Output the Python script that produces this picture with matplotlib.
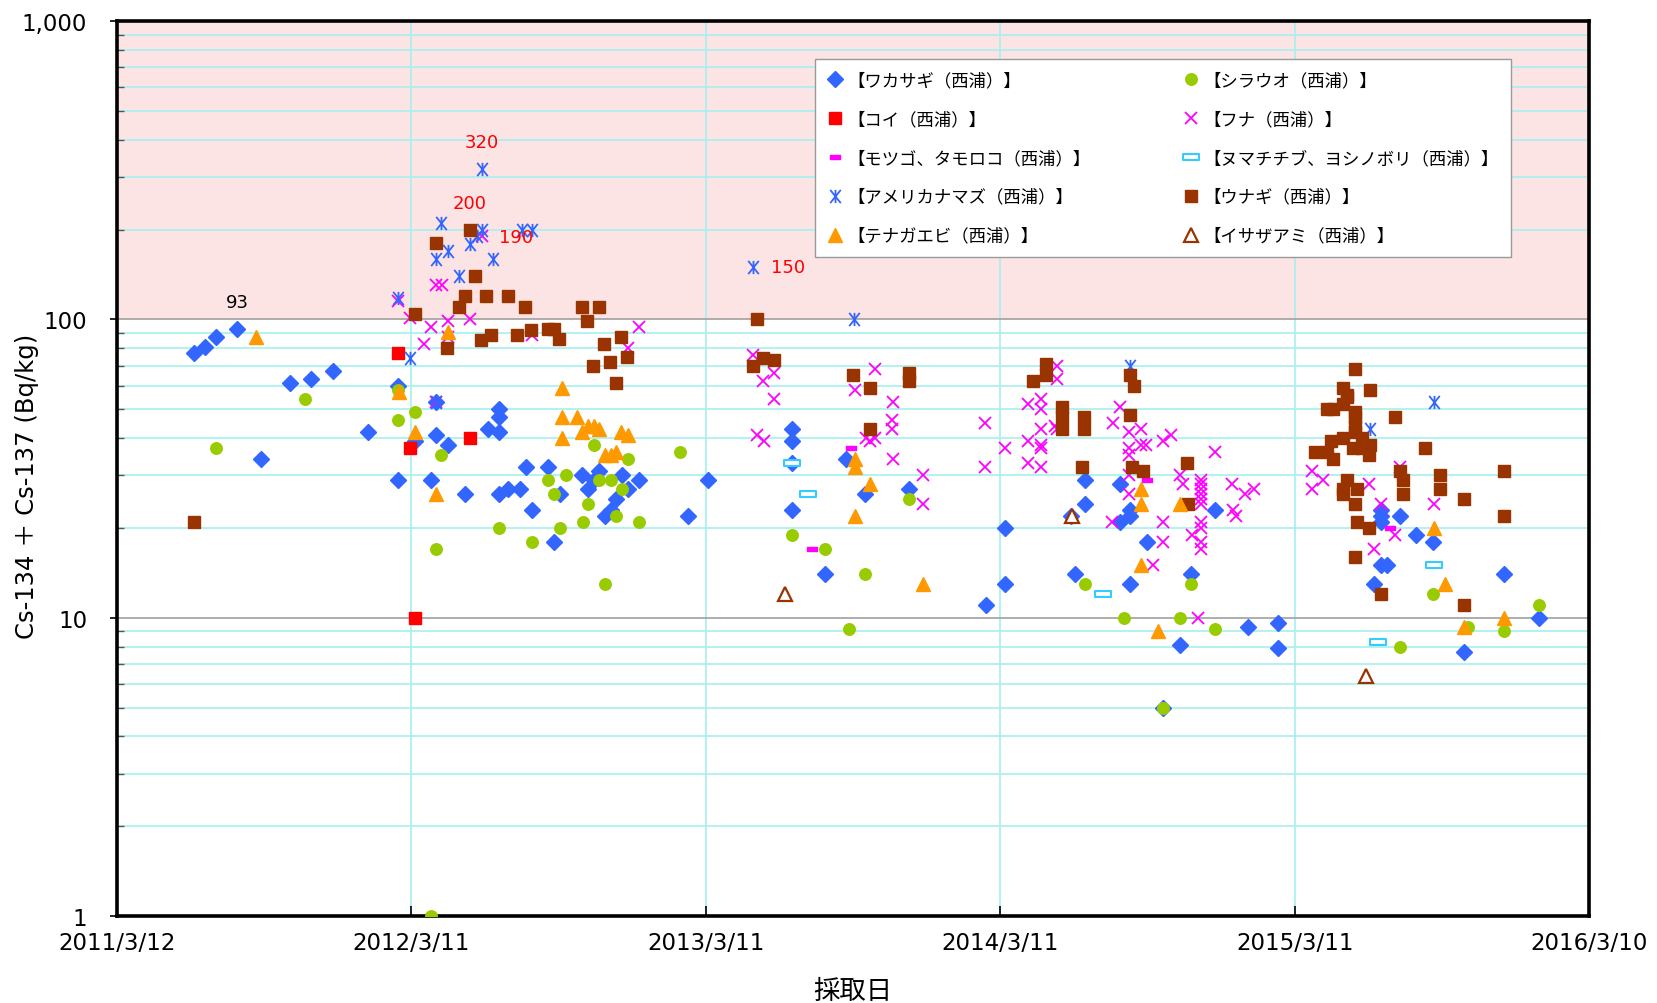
import numpy as np
import pandas as pd
import matplotlib
matplotlib.use('Agg')
import matplotlib.pyplot as plt
from matplotlib.path import Path
from matplotlib.ticker import LogLocator, NullFormatter

plt.rcParams['font.family'] = ['Noto Sans CJK JP', 'DejaVu Sans']

# ---- data ----
wakasagi_d = ['2011-06-15', '2011-06-29', '2011-07-13', '2011-08-08', '2011-09-06', '2011-10-12', '2011-11-07',
              '2011-12-05', '2012-01-17', '2012-02-23', '2012-02-23', '2012-03-16', '2012-04-11', '2012-04-11',
              '2012-04-04', '2012-04-25', '2012-05-16', '2012-06-14', '2012-06-28', '2012-06-28', '2012-06-28',
              '2012-06-28', '2012-07-09', '2012-07-24', '2012-07-31', '2012-08-08', '2012-08-27', '2012-09-04',
              '2012-09-11', '2012-10-09', '2012-10-16', '2012-10-23', '2012-10-30', '2012-11-06', '2012-11-13',
              '2012-11-19', '2012-11-27', '2012-12-04', '2012-12-18', '2013-02-17', '2013-03-14', '2013-06-26',
              '2013-06-26', '2013-06-26', '2013-06-26', '2013-08-06', '2013-09-01', '2013-09-24', '2013-11-18',
              '2014-02-21', '2014-03-17', '2014-03-17', '2014-06-07', '2014-06-12', '2014-06-24', '2014-06-24',
              '2014-08-07', '2014-08-07', '2014-08-19', '2014-08-19', '2014-08-19', '2014-09-09', '2014-09-29',
              '2014-10-20', '2014-11-03', '2014-12-02', '2015-01-12', '2015-02-18', '2015-02-18', '2015-06-18',
              '2015-06-26', '2015-06-26', '2015-06-26', '2015-06-26', '2015-07-04', '2015-07-20', '2015-08-09',
              '2015-08-30', '2015-10-07', '2015-11-25', '2016-01-08']
wakasagi_v = [77, 81, 87, 93, 34, 61, 63, 67, 42, 60, 29, 39, 53, 41, 29, 38, 26, 43, 50, 47, 42, 26, 27, 27, 32,
              23, 32, 18, 26, 30, 27, 29, 31, 22, 23, 25, 30, 27, 29, 22, 29, 43, 39, 33, 23, 14, 34, 26, 27, 11,
              20, 13, 22, 14, 29, 24, 28, 21, 23, 22, 13, 18, 5, 8.1, 14, 23, 9.3, 9.6, 7.9, 13, 23, 22, 21, 15,
              15, 22, 19, 18, 7.7, 14, 10]

shirauo_d = ['2011-07-13', '2011-10-31', '2012-02-23', '2012-02-23', '2012-03-16', '2012-04-04', '2012-04-11',
             '2012-04-17', '2012-06-28', '2012-08-07', '2012-08-27', '2012-09-04', '2012-09-11', '2012-09-19',
             '2012-10-10', '2012-10-16', '2012-10-23', '2012-10-30', '2012-11-06', '2012-11-13', '2012-11-19',
             '2012-11-27', '2012-12-04', '2012-12-18', '2013-02-07', '2013-06-26', '2013-08-06', '2013-09-04',
             '2013-09-24', '2013-11-18', '2014-06-24', '2014-08-12', '2014-09-29', '2014-10-20', '2014-11-03',
             '2014-12-02', '2015-07-20', '2015-08-30', '2015-10-12', '2015-11-25', '2016-01-08']
shirauo_v = [37, 54, 58, 46, 49, 1, 17, 35, 20, 18, 29, 26, 20, 30, 21, 24, 38, 29, 13, 29, 22, 27, 34, 21, 36,
             19, 17, 9.2, 14, 25, 13, 10, 5, 10, 13, 9.2, 8.0, 12, 9.3, 9.0, 11]

koi_d = ['2012-02-23', '2012-03-09', '2012-03-16', '2012-05-22']
koi_v = [77, 37, 10, 40]

funa_d = ['2012-02-23', '2012-03-09', '2012-03-27', '2012-04-04', '2012-04-11', '2012-04-18', '2012-04-11',
          '2012-04-25', '2012-04-25', '2012-05-22', '2012-06-06', '2012-08-07', '2012-12-04', '2012-12-18',
          '2013-05-09', '2013-05-21', '2013-06-04', '2013-06-04', '2013-05-13', '2013-05-22', '2013-09-12',
          '2013-10-07', '2013-10-29', '2013-10-28', '2013-10-28', '2013-10-29', '2013-09-26', '2013-09-30',
          '2013-10-07', '2013-12-05', '2013-12-05', '2014-02-20', '2014-02-20', '2014-03-17', '2014-04-15',
          '2014-04-30', '2014-04-30', '2014-05-20', '2014-05-20', '2014-04-30', '2014-04-15', '2014-04-30',
          '2014-04-30', '2014-04-15', '2014-04-30', '2014-05-18', '2014-05-20', '2014-08-06', '2014-07-29',
          '2014-08-18', '2014-09-02', '2014-08-18', '2014-08-18', '2014-09-02', '2014-09-08', '2014-09-29',
          '2014-10-09', '2014-08-18', '2014-08-18', '2014-07-28', '2014-09-29', '2014-09-29', '2014-09-16',
          '2014-10-20', '2014-10-23', '2014-11-15', '2014-11-15', '2014-11-15', '2014-11-15', '2014-11-15',
          '2014-11-15', '2014-11-04', '2014-11-15', '2014-11-15', '2014-11-15', '2014-11-15', '2014-12-02',
          '2014-12-23', '2014-11-11', '2014-12-24', '2014-12-28', '2015-01-09', '2015-01-20', '2015-04-01',
          '2015-04-01', '2015-04-15', '2015-06-11', '2015-07-20', '2015-06-26', '2015-07-13', '2015-06-18',
          '2015-08-31']
funa_v = [115, 101, 83, 94, 130, 130, 53, 99, 87, 100, 190, 89, 80, 94, 76, 62, 66, 54, 41, 39, 58, 68, 53, 46,
          43, 34, 40, 39, 40, 30, 24, 45, 32, 37, 52, 54, 50, 70, 63, 43, 39, 38, 37, 33, 32, 44, 43, 51, 45,
          42, 43, 37, 35, 38, 38, 39, 41, 30, 26, 21, 21, 18, 15, 30, 28, 29, 28, 27, 26, 25, 24, 19, 21, 20,
          18, 17, 36, 28, 10, 23, 22, 26, 27, 31, 27, 29, 28, 32, 24, 19, 17, 24]

motsugo_d = ['2013-07-21', '2013-09-07', '2014-09-09', '2015-07-07']
motsugo_v = [17, 37, 29, 20]

numachichibu_d = ['2013-06-26', '2013-07-16', '2014-07-17', '2015-06-22', '2015-08-31']
numachichibu_v = [33, 26, 12, 8.3, 15]

namazu_d = ['2012-02-23', '2012-03-09', '2012-04-11', '2012-04-17', '2012-04-25', '2012-05-09', '2012-05-22',
            '2012-05-31', '2012-06-06', '2012-06-06', '2012-06-20', '2012-07-26', '2012-08-08', '2012-04-11',
            '2013-05-09', '2013-09-11', '2014-08-19', '2015-06-12', '2015-08-31']
namazu_v = [118, 74, 159, 210, 169, 140, 179, 190, 200, 320, 160, 200, 200, 53, 150, 100, 70, 43, 53]

unagi_d = ['2011-06-15', '2012-03-16', '2012-04-11', '2012-04-24', '2012-05-09', '2012-05-16', '2012-05-22',
           '2012-05-29', '2012-06-05', '2012-06-11', '2012-06-18', '2012-07-09', '2012-07-20', '2012-07-30',
           '2012-08-06', '2012-08-27', '2012-09-04', '2012-09-10', '2012-10-08', '2012-10-15', '2012-10-22',
           '2012-10-29', '2012-11-05', '2012-11-12', '2012-11-19', '2012-11-26', '2012-12-03', '2013-05-09',
           '2013-05-13', '2013-05-21', '2013-06-03', '2013-09-09', '2013-09-30', '2013-09-30', '2013-11-18',
           '2013-11-18', '2014-04-21', '2014-05-07', '2014-05-07', '2014-05-26', '2014-05-26', '2014-05-26',
           '2014-06-20', '2014-06-23', '2014-06-23', '2014-08-19', '2014-08-24', '2014-08-19', '2014-08-21',
           '2014-09-04', '2014-10-29', '2014-10-30', '2015-04-05', '2015-04-20', '2015-04-20', '2015-04-25',
           '2015-04-27', '2015-04-27', '2015-05-10', '2015-05-10', '2015-05-10', '2015-05-10', '2015-05-10',
           '2015-05-15', '2015-05-15', '2015-05-15', '2015-05-22', '2015-05-25', '2015-05-25', '2015-05-25',
           '2015-05-25', '2015-05-25', '2015-05-25', '2015-05-25', '2015-05-27', '2015-05-27', '2015-06-02',
           '2015-06-02', '2015-06-11', '2015-06-11', '2015-06-12', '2015-06-13', '2015-06-26', '2015-07-14',
           '2015-07-20', '2015-07-23', '2015-07-23', '2015-08-20', '2015-09-07', '2015-09-07', '2015-10-07',
           '2015-10-07', '2015-11-25', '2015-11-25']
unagi_v = [21, 104, 180, 80, 110, 120, 200, 140, 85, 120, 89, 120, 89, 110, 92, 93, 93, 86, 110, 99, 70, 110,
           83, 72, 61, 87, 75, 70, 100, 74, 73, 65, 59, 43, 66, 62, 62, 71, 65, 51, 47, 43, 32, 47, 43, 65, 60,
           48, 32, 31, 33, 24, 36, 50, 36, 39, 50, 34, 59, 52, 40, 27, 26, 56, 55, 29, 37, 68, 49, 47, 44, 42,
           24, 16, 27, 21, 40, 37, 35, 20, 58, 38, 12, 47, 31, 29, 26, 37, 30, 27, 25, 11, 31, 22]

tenagaebi_d = ['2011-08-31', '2012-02-24', '2012-03-16', '2012-04-11', '2012-04-25', '2012-09-14', '2012-09-14',
               '2012-09-14', '2012-10-02', '2012-10-09', '2012-10-16', '2012-10-23', '2012-10-30', '2012-11-06',
               '2012-11-13', '2012-11-19', '2012-11-26', '2012-12-04', '2013-09-12', '2013-09-12', '2013-09-12',
               '2013-09-30', '2013-12-05', '2014-09-02', '2014-09-02', '2014-09-02', '2014-09-22', '2014-10-20',
               '2015-08-31', '2015-09-14', '2015-10-07', '2015-11-25']
tenagaebi_v = [87, 57, 42, 26, 91, 59, 47, 40, 47, 42, 44, 44, 43, 35, 35, 36, 42, 41, 34, 32, 22, 28, 13, 27,
               24, 15, 9.0, 24, 20, 13, 9.3, 10]

isazaami_d = ['2013-06-17', '2014-06-08', '2015-06-07']
isazaami_v = [12, 22, 6.4]

# value labels written next to some points
note_d = ['2011-08-08', '2012-06-06', '2012-05-22', '2012-06-06', '2013-05-09']
note_v = [93, 320, 200, 190, 150]
note_txt = ['93', '320', '200', '190', '150']
note_col = ['black', 'red', 'red', 'red', 'red']
note_off = [(0, 27), (0, 27), (0, 27), (34, -1), (35, 0)]

xtick_d = ['2011-03-12', '2012-03-11', '2013-03-11', '2014-03-11', '2015-03-11', '2016-03-10']
ytick_v = [1, 10, 100, 1000]
ytick_lbl = ['1', '10', '100', '1,000']

# ---- custom markers ----
asterisk = Path([(-0.8, -1), (0.8, 1), (-0.8, 1), (0.8, -1), (0, -1), (0, 1)],
                [Path.MOVETO, Path.LINETO, Path.MOVETO, Path.LINETO, Path.MOVETO, Path.LINETO])
dash_small = Path([(-1, -0.45), (1, -0.45), (1, 0.45), (-1, 0.45), (-1, -0.45)],
                  [Path.MOVETO, Path.LINETO, Path.LINETO, Path.LINETO, Path.CLOSEPOLY])
dash_long = Path([(-1, -0.35), (1, -0.35), (1, 0.35), (-1, 0.35), (-1, -0.35)],
                 [Path.MOVETO, Path.LINETO, Path.LINETO, Path.LINETO, Path.CLOSEPOLY])

series = [
    ('【ワカサギ（西浦）】', wakasagi_d, wakasagi_v, dict(marker='D', ms=8.3, color='#3366ff')),
    ('【シラウオ（西浦）】', shirauo_d, shirauo_v, dict(marker='o', ms=8.3, color='#99cc00')),
    ('【コイ（西浦）】', koi_d, koi_v, dict(marker='s', ms=8.3, color='#ff0000')),
    ('【フナ（西浦）】', funa_d, funa_v, dict(marker='x', ms=9, mew=1.3, color='#ff00ff')),
    ('【モツゴ、タモロコ（西浦）】', motsugo_d, motsugo_v, dict(marker=dash_small, ms=6.8, color='#ff00ff')),
    ('【ヌマチチブ、ヨシノボリ（西浦）】', numachichibu_d, numachichibu_v,
     dict(marker=dash_long, ms=11, color='#33ccff', mfc='white', mew=1.5)),
    ('【アメリカナマズ（西浦）】', namazu_d, namazu_v, dict(marker=asterisk, ms=9.5, mew=1.3, color='#3366ff', mfc='none')),
    ('【ウナギ（西浦）】', unagi_d, unagi_v, dict(marker='s', ms=8.5, color='#993300')),
    ('【テナガエビ（西浦）】', tenagaebi_d, tenagaebi_v, dict(marker='^', ms=10, color='#ff9900')),
    ('【イサザアミ（西浦）】', isazaami_d, isazaami_v, dict(marker='^', ms=10, mew=1.6, color='#993300', mfc='white')),
]

fig = plt.figure(figsize=(16.58, 10.04), dpi=100)
ax = fig.add_axes([0.0706, 0.0866, 0.8878, 0.8914])

ax.set_yscale('log')
ax.set_ylim(1, 1000)
ax.set_xlim(pd.Timestamp(xtick_d[0]), pd.Timestamp(xtick_d[-1]))

ax.axhspan(100, 1000, color='#fce4e4', zorder=0, lw=0)

handles = {}
for name, d, v, st in series:
    h, = ax.plot(pd.to_datetime(d), v, linestyle='none', label=name, zorder=3, **st)
    handles[name] = h

for d, v, t, c, off in zip(note_d, note_v, note_txt, note_col, note_off):
    ax.annotate(t, xy=(pd.Timestamp(d), v), xytext=off, textcoords='offset pixels',
                ha='center', va='center', color=c, fontsize=13, family='DejaVu Sans')

# grid
cyan = '#a6f0f0'
ax.set_axisbelow(True)
ax.yaxis.set_minor_locator(LogLocator(base=10, subs=np.arange(2, 10)))
ax.yaxis.set_minor_formatter(NullFormatter())
ax.yaxis.grid(True, which='minor', color=cyan, lw=1.2)
ax.yaxis.grid(True, which='major', color='#a0a0a0', lw=1.2)
ax.xaxis.grid(True, which='major', color=cyan, lw=1.2)

xt = pd.to_datetime(xtick_d)
ax.set_xticks(xt)
ax.set_xticklabels([f'{t.year}/{t.month}/{t.day}' for t in xt], fontsize=16.5, family='DejaVu Sans')
ax.set_yticks(ytick_v)
ax.set_yticklabels(ytick_lbl, fontsize=16.5, family='DejaVu Sans')

ax.tick_params(axis='x', direction='in', length=7, width=1.2, pad=11)
ax.tick_params(axis='y', which='major', direction='out', length=5, width=1.2, pad=16.5)
ax.tick_params(axis='y', which='minor', direction='in', length=5, width=1, color='#555555')

for s in ax.spines.values():
    s.set_linewidth(2.6)
    s.set_color('black')

ax.set_xlabel('採取日', fontsize=19, va='center')
ax.xaxis.set_label_coords(0.5, -0.0827)
ax.set_ylabel('Cs-134 ＋ Cs-137 (Bq/kg)', fontsize=17.5, va='center',
              family=['DejaVu Sans', 'Noto Sans CJK JP'])
ax.yaxis.set_label_coords(-0.0611, 0.4816)

order = ['【ワカサギ（西浦）】', '【コイ（西浦）】', '【モツゴ、タモロコ（西浦）】', '【アメリカナマズ（西浦）】',
         '【テナガエビ（西浦）】', '【シラウオ（西浦）】', '【フナ（西浦）】', '【ヌマチチブ、ヨシノボリ（西浦）】',
         '【ウナギ（西浦）】', '【イサザアミ（西浦）】']
leg = ax.legend([handles[k] for k in order], order, ncol=2, loc='upper left',
                bbox_to_anchor=(0.474, 0.9575), borderaxespad=0, fontsize=12.5, frameon=True,
                fancybox=False, edgecolor='#999999', framealpha=1, labelspacing=1.2, handlelength=0.9,
                handletextpad=0.3, columnspacing=5.3, borderpad=0.7)
leg.get_frame().set_linewidth(1.0)
leg.set_zorder(5)

fig.savefig('out.png', dpi=100)
